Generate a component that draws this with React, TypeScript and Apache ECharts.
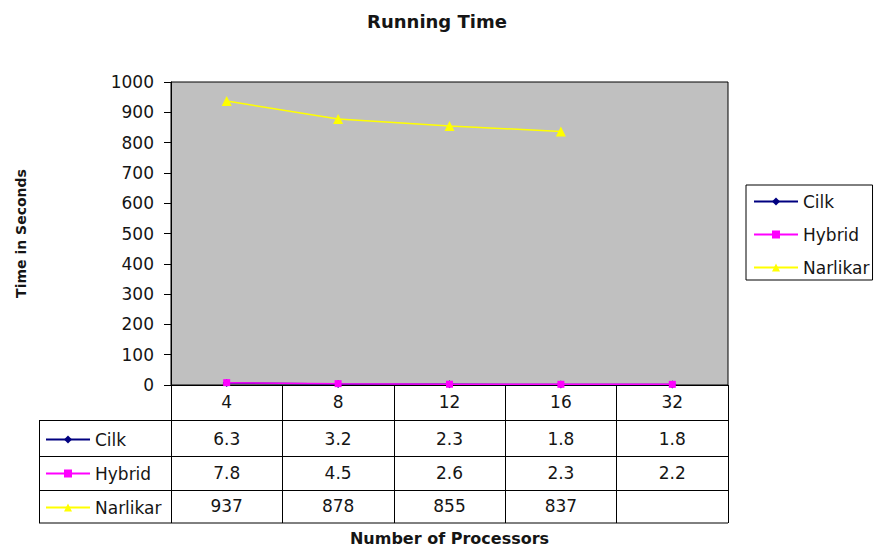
import React, { useEffect, useRef } from "react";
import * as echarts from "echarts";

const categories = ["4", "8", "12", "16", "32"];
const cilk = [6.3, 3.2, 2.3, 1.8, 1.8];
const hybrid = [7.8, 4.5, 2.6, 2.3, 2.2];
const narlikar: (number | null)[] = [937, 878, 855, 837, null];
const yTicks = { min: 0, max: 1000, interval: 100 };

const FONT = "'DejaVu Sans', sans-serif";
const TXT = "#151515";

const fmt = (arr: (number | null)[]) => arr.map((v) => (v == null ? "" : String(v)));

export default function App() {
  const ref = useRef<HTMLDivElement>(null);
  useEffect(() => {
    document.body.style.margin = "0";
    const chart = echarts.init(ref.current!, null, { renderer: "svg" });
    const rowAxis = (data: string[], offset: number, margin: number) => ({
      type: "category",
      gridIndex: 0,
      position: "bottom",
      offset,
      data,
      boundaryGap: true,
      axisLine: { show: false },
      axisTick: { show: false },
      splitLine: { show: false },
      axisLabel: { interval: 0, margin, fontFamily: FONT, fontSize: 17, color: TXT },
    });
    const option: any = {
      animation: false,
      backgroundColor: "#fff",
      title: {
        text: "Running Time",
        left: "center",
        top: 7,
        textStyle: { fontFamily: FONT, fontSize: 18, fontWeight: "bold", color: TXT },
      },
      grid: {
        left: 171,
        right: 146,
        top: 82,
        bottom: 166,
        show: true,
        backgroundColor: "#c0c0c0",
        borderColor: "#000",
        borderWidth: 1,
      },
      legend: [
        {
          orient: "vertical",
          left: 746,
          top: 185,
          padding: [8, 3, 4, 7],
          itemGap: 16,
          itemWidth: 44,
          itemHeight: 10,
          borderColor: "#000",
          borderWidth: 1,
          selectedMode: false,
          data: ["Cilk", "Hybrid", "Narlikar"],
          textStyle: { fontFamily: FONT, fontSize: 17, color: TXT },
        },
        {
          orient: "vertical",
          left: 45,
          top: 431,
          padding: 0,
          itemGap: 17,
          itemWidth: 44,
          itemHeight: 10,
          selectedMode: false,
          data: ["Cilk", "Hybrid", "Narlikar"],
          textStyle: { fontFamily: FONT, fontSize: 17, color: TXT },
        },
      ],
      xAxis: [
        {
          type: "category",
          data: categories,
          boundaryGap: true,
          name: "Number of Processors",
          nameLocation: "middle",
          nameGap: 145,
          nameTextStyle: { fontFamily: FONT, fontSize: 16, fontWeight: "bold", color: TXT },
          axisLine: { show: true, lineStyle: { color: "#000", width: 1 } },
          axisTick: { show: true, length: 138, lineStyle: { color: "#000", width: 1 } },
          splitLine: { show: false },
          axisLabel: { interval: 0, margin: 8, fontFamily: FONT, fontSize: 17, color: TXT },
        },
        rowAxis(fmt(cilk), 35, 10),
        rowAxis(fmt(hybrid), 71, 8),
        rowAxis(fmt(narlikar), 105, 7),
      ],
      yAxis: {
        type: "value",
        min: yTicks.min,
        max: yTicks.max,
        interval: yTicks.interval,
        name: "Time in Seconds",
        nameLocation: "middle",
        nameGap: 143,
        nameTextStyle: { fontFamily: FONT, fontSize: 14, fontWeight: "bold", color: TXT },
        axisLine: { show: true, lineStyle: { color: "#000", width: 1 } },
        axisTick: { show: true, length: 7, lineStyle: { color: "#000" } },
        splitLine: { show: false },
        axisLabel: {
          margin: 17,
          fontFamily: FONT,
          fontSize: 17,
          color: TXT,
          formatter: (v: number) => String(v),
        },
      },
      series: [
        {
          name: "Cilk",
          type: "line",
          data: cilk,
          symbol: "diamond",
          symbolSize: 8,
          color: "#000080",
          lineStyle: { color: "#000080", width: 1.5 },
          itemStyle: { color: "#000080" },
          z: 2,
        },
        {
          name: "Hybrid",
          type: "line",
          data: hybrid,
          symbol: "rect",
          symbolSize: 7,
          color: "#ff00ff",
          lineStyle: { color: "#ff00ff", width: 1.5 },
          itemStyle: { color: "#ff00ff" },
          z: 3,
        },
        {
          name: "Narlikar",
          type: "line",
          data: narlikar,
          symbol: "triangle",
          symbolSize: 10,
          color: "#ffff00",
          lineStyle: { color: "#ffff00", width: 1.5 },
          itemStyle: { color: "#ffff00" },
          connectNulls: false,
          z: 4,
        },
      ],
      graphic: [
        { type: "line", shape: { x1: 39, y1: 420.5, x2: 728, y2: 420.5 }, style: { stroke: "#000", lineWidth: 1 } },
        { type: "line", shape: { x1: 39, y1: 456.5, x2: 728, y2: 456.5 }, style: { stroke: "#000", lineWidth: 1 } },
        { type: "line", shape: { x1: 39, y1: 490.5, x2: 728, y2: 490.5 }, style: { stroke: "#000", lineWidth: 1 } },
        { type: "line", shape: { x1: 39, y1: 523, x2: 728, y2: 523 }, style: { stroke: "#000", lineWidth: 1 } },
        { type: "line", shape: { x1: 39.5, y1: 420, x2: 39.5, y2: 523 }, style: { stroke: "#000", lineWidth: 1 } },
      ],
    };
    chart.setOption(option);
    return () => chart.dispose();
  }, []);
  return <div ref={ref} style={{ width: 874, height: 551 }} />;
}
